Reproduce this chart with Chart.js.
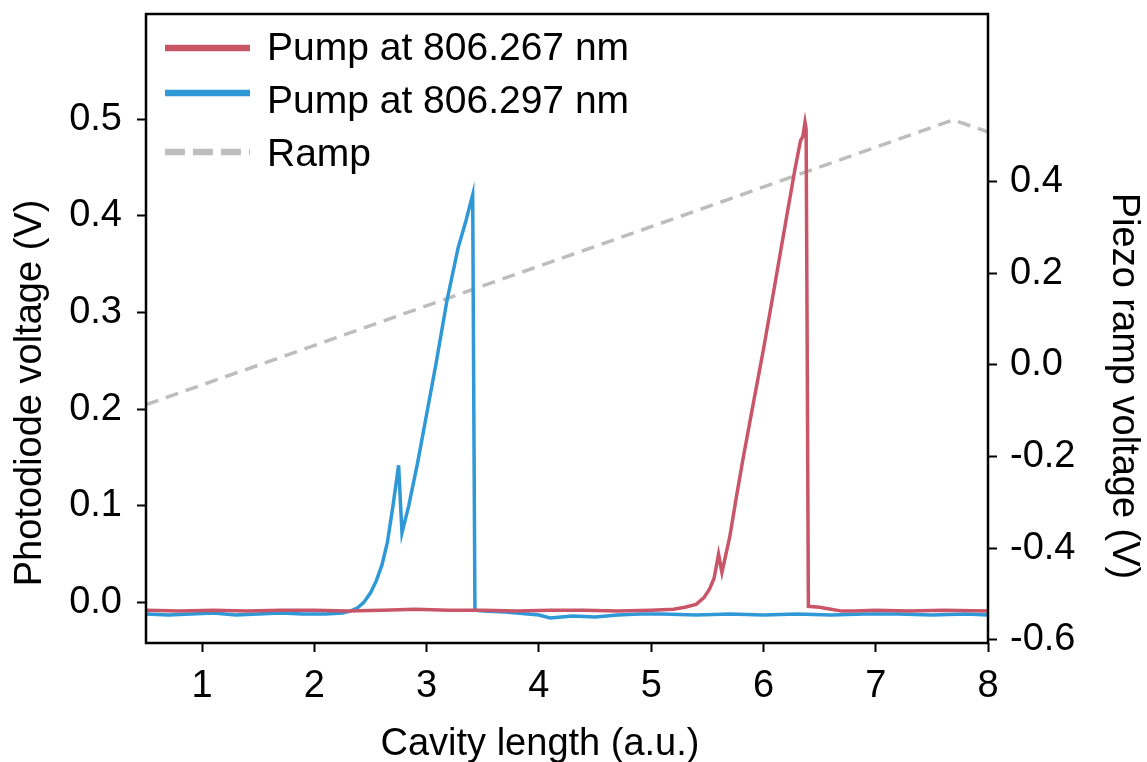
<!DOCTYPE html>
<html>
<head>
<meta charset="utf-8">
<script src="https://cdn.jsdelivr.net/npm/chart.js@4.4.1/dist/chart.umd.min.js"></script>
<style>
  body { margin: 0; background: #fff; }
  #wrap { width: 1147px; height: 762px; }
</style>
</head>
<body>
<div id="wrap"><canvas id="chart" width="1147" height="762"></canvas></div>
<script>
// values
var blueX = [0.5, 0.7, 0.9, 1.1, 1.3, 1.5, 1.7, 1.9, 2.1, 2.25, 2.32, 2.38, 2.44, 2.5, 2.55, 2.6, 2.65, 2.7, 2.75, 2.78, 2.84, 2.92, 3.0, 3.08, 3.18, 3.28, 3.35, 3.41, 3.42, 3.43, 3.5, 3.7, 3.9, 4.0, 4.1, 4.2, 4.3, 4.5, 4.7, 4.9, 5.1, 5.4, 5.7, 6.0, 6.3, 6.6, 6.9, 7.2, 7.5, 7.8, 8.0];
var blueY = [-0.012, -0.013, -0.012, -0.011, -0.013, -0.012, -0.011, -0.012, -0.012, -0.011, -0.009, -0.006, 0.000, 0.010, 0.022, 0.038, 0.062, 0.100, 0.142, 0.072, 0.100, 0.145, 0.195, 0.245, 0.312, 0.367, 0.395, 0.422, 0.200, -0.008, -0.009, -0.010, -0.012, -0.013, -0.016, -0.015, -0.014, -0.015, -0.013, -0.012, -0.012, -0.013, -0.012, -0.013, -0.012, -0.013, -0.012, -0.012, -0.013, -0.012, -0.013];

var redX = [0.5, 0.8, 1.1, 1.4, 1.7, 2.0, 2.3, 2.6, 2.9, 3.2, 3.5, 3.8, 4.1, 4.4, 4.7, 5.0, 5.2, 5.3, 5.4, 5.47, 5.52, 5.56, 5.6, 5.63, 5.7, 5.76, 5.82, 5.9, 6.0, 6.1, 6.2, 6.28, 6.33, 6.35, 6.37, 6.38, 6.39, 6.4, 6.5, 6.6, 6.7, 6.8, 7.0, 7.3, 7.6, 8.0];
var redY = [-0.008, -0.009, -0.008, -0.009, -0.008, -0.008, -0.009, -0.008, -0.007, -0.008, -0.008, -0.009, -0.008, -0.008, -0.009, -0.008, -0.007, -0.005, -0.002, 0.005, 0.014, 0.025, 0.050, 0.031, 0.068, 0.110, 0.150, 0.200, 0.262, 0.328, 0.395, 0.448, 0.478, 0.482, 0.497, 0.490, 0.250, -0.004, -0.005, -0.007, -0.009, -0.009, -0.008, -0.009, -0.008, -0.009];

var rampX = [0.5, 2.0, 3.5, 5.0, 6.5, 7.69, 8.0];
var rampY = [-0.087, 0.042, 0.172, 0.301, 0.431, 0.534, 0.508];

var xTicks = [1, 2, 3, 4, 5, 6, 7, 8];
var leftTicks = [0.0, 0.1, 0.2, 0.3, 0.4, 0.5];
var rightTicks = [-0.6, -0.4, -0.2, 0.0, 0.2, 0.4];

var labels = ['Pump at 806.267 nm', 'Pump at 806.297 nm', 'Ramp'];
var colors = ['#c95668', '#2f98d7', '#bdbdbd'];

function pts(xs, ys) {
   return xs.map(function (x, i) { return { x: x, y: ys[i] }; });
}

var FAMILY = '"Liberation Sans", Arial, sans-serif';

var framePlugin = {
   id: 'frame',
   afterDraw: function (chart) {
      var ctx = chart.ctx;
      var a = chart.chartArea;
      ctx.save();
      ctx.strokeStyle = '#000';
      ctx.lineWidth = 2.5;
      ctx.strokeRect(a.left, a.top, a.right - a.left, a.bottom - a.top);

      ctx.fillStyle = '#000';
      ctx.font = '38px ' + FAMILY;
      ctx.textBaseline = 'alphabetic';
      ctx.textAlign = 'center';
      ctx.fillText('Cavity length (a.u.)', 540, 755);

      ctx.save();
      ctx.translate(41, 393);
      ctx.rotate(-Math.PI / 2);
      ctx.fillText('Photodiode voltage (V)', 0, 0);
      ctx.restore();

      ctx.save();
      ctx.translate(1113, 386);
      ctx.rotate(Math.PI / 2);
      ctx.fillText('Piezo ramp voltage (V)', 0, 0);
      ctx.restore();

      // legend
      var rows = [48, 93, 152];
      var textY = [47, 100, 153];
      ctx.font = '39px ' + FAMILY;
      ctx.textAlign = 'left';
      ctx.textBaseline = 'middle';
      for (var i = 0; i < 3; i++) {
         ctx.beginPath();
         ctx.strokeStyle = colors[i];
         ctx.lineWidth = 6.5;
         ctx.setLineDash(i == 2 ? [20, 8] : []);
         ctx.moveTo(165, rows[i]);
         ctx.lineTo(250, rows[i]);
         ctx.stroke();
         ctx.fillStyle = '#000';
         ctx.fillText(labels[i], 267, textY[i] + 2);
      }
      ctx.restore();
   }
};

function fixTicks(list) {
   return function (scale) {
      scale.ticks = list.map(function (v) { return { value: v }; });
   };
}

function fitSize(prop, size) {
   return function (s) {
      s[prop] = size;
      s.paddingTop = 0;
      s.paddingBottom = 0;
      s.paddingLeft = 0;
      s.paddingRight = 0;
   };
}

var tickGrid = {
   display: true,
   drawOnChartArea: false,
   drawTicks: true,
   tickLength: 9,
   tickWidth: 2,
   tickColor: '#000'
};

new Chart(document.getElementById('chart'), {
   type: 'line',
   data: {
      datasets: [
         {
            label: labels[0],
            data: pts(redX, redY),
            borderColor: colors[0],
            borderWidth: 3.5,
            yAxisID: 'y',
            order: 1
         },
         {
            label: labels[1],
            data: pts(blueX, blueY),
            borderColor: colors[1],
            borderWidth: 3.5,
            yAxisID: 'y',
            order: 2
         },
         {
            label: labels[2],
            data: pts(rampX, rampY),
            borderColor: colors[2],
            borderWidth: 3.5,
            borderDash: [13, 8],
            yAxisID: 'y2',
            order: 3
         }
      ]
   },
   options: {
      responsive: false,
      animation: false,
      layout: { padding: { top: 14, left: 0, right: 0, bottom: 0 } },
      elements: { point: { radius: 0 }, line: { tension: 0, fill: false } },
      plugins: { legend: { display: false }, tooltip: { enabled: false } },
      scales: {
         x: {
            type: 'linear',
            min: 0.5,
            max: 8,
            afterBuildTicks: fixTicks(xTicks),
            afterFit: fitSize('height', 119),
            grid: tickGrid,
            border: { display: false },
            ticks: {
               color: '#000',
               font: { family: FAMILY, size: 38 },
               padding: 12,
               maxRotation: 0,
               callback: function (v) { return String(v); }
            }
         },
         y: {
            type: 'linear',
            position: 'left',
            min: -0.042,
            max: 0.609,
            afterBuildTicks: fixTicks(leftTicks),
            afterFit: fitSize('width', 146),
            grid: tickGrid,
            border: { display: false },
            ticks: {
               color: '#000',
               font: { family: FAMILY, size: 38 },
               padding: 15,
               callback: function (v) { return v.toFixed(1); }
            }
         },
         y2: {
            type: 'linear',
            position: 'right',
            min: -0.607,
            max: 0.765,
            afterBuildTicks: fixTicks(rightTicks),
            afterFit: fitSize('width', 159),
            grid: tickGrid,
            border: { display: false },
            ticks: {
               color: '#000',
               font: { family: FAMILY, size: 38 },
               padding: 13,
               callback: function (v) { return v.toFixed(1); }
            }
         }
      }
   },
   plugins: [framePlugin]
});
</script>
</body>
</html>
